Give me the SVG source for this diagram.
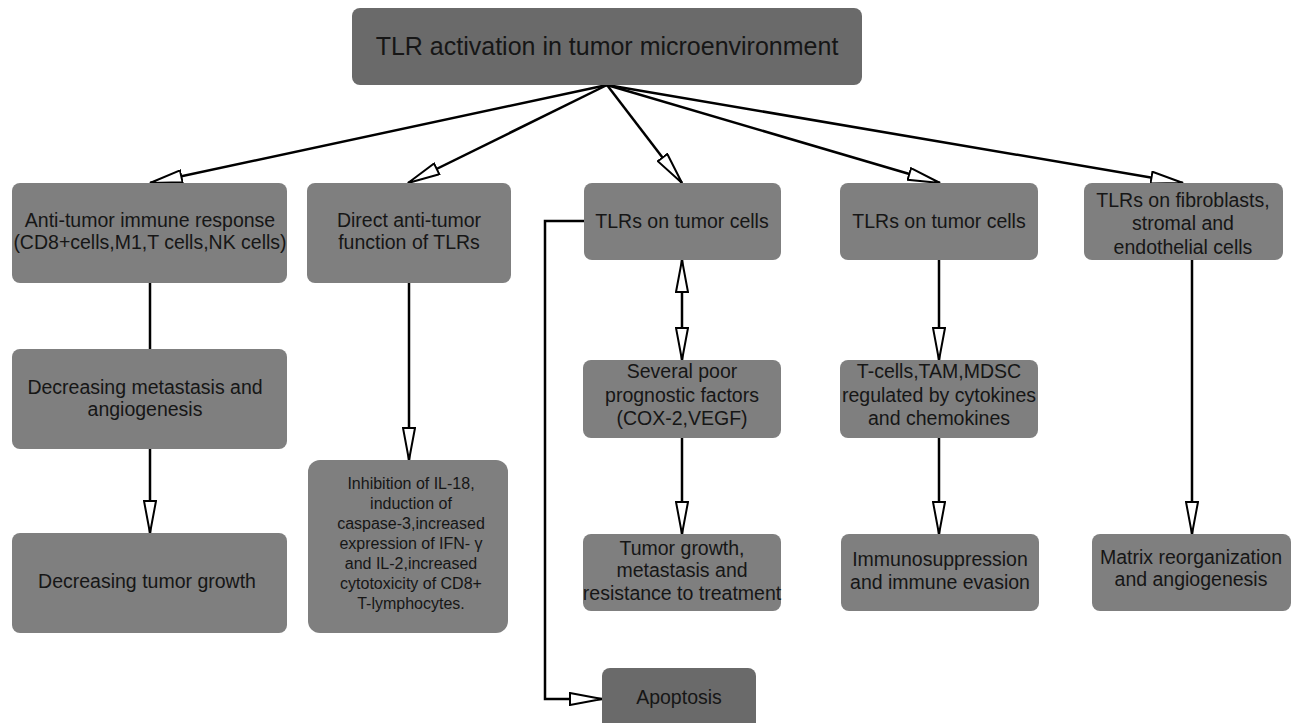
<svg xmlns="http://www.w3.org/2000/svg" width="1292" height="723" viewBox="0 0 1292 723">
<style>
.box{fill:#7f7f7f;}
.dark{fill:#6a6a6a;}
text{font-family:"Liberation Sans",Arial,sans-serif;font-size:19.5px;fill:#161616;text-anchor:middle;}
.title{font-size:25px;}
.small{font-size:16px;}
.conn{fill:none;stroke:#000;stroke-width:2.5;}
</style>
<defs>
<marker id="arr" viewBox="0 0 34 14" refX="33" refY="7" markerWidth="34" markerHeight="14" markerUnits="userSpaceOnUse" orient="auto-start-reverse">
<path d="M1,1 L33,7 L1,13 Z" fill="#fff" stroke="#000" stroke-width="2"/>
</marker>
</defs>
<rect width="1292" height="723" fill="#fff"/>
<g id="connectors">
<line class="conn" x1="607" y1="85" x2="150" y2="183" marker-end="url(#arr)"/>
<line class="conn" x1="607" y1="85" x2="408" y2="183" marker-end="url(#arr)"/>
<line class="conn" x1="607" y1="85" x2="682" y2="183" marker-end="url(#arr)"/>
<line class="conn" x1="607" y1="85" x2="940" y2="183" marker-end="url(#arr)"/>
<line class="conn" x1="607" y1="85" x2="1183" y2="183" marker-end="url(#arr)"/>
<line class="conn" x1="150" y1="283" x2="150" y2="349"/>
<line class="conn" x1="150" y1="449" x2="150" y2="533" marker-end="url(#arr)"/>
<line class="conn" x1="409" y1="283" x2="409" y2="460" marker-end="url(#arr)"/>
<line class="conn" x1="682" y1="260" x2="682" y2="360" marker-start="url(#arr)" marker-end="url(#arr)"/>
<line class="conn" x1="682" y1="438" x2="682" y2="534" marker-end="url(#arr)"/>
<line class="conn" x1="939" y1="260" x2="939" y2="360" marker-end="url(#arr)"/>
<line class="conn" x1="939" y1="438" x2="939" y2="534" marker-end="url(#arr)"/>
<line class="conn" x1="1192" y1="260" x2="1192" y2="534" marker-end="url(#arr)"/>
<polyline class="conn" points="584,221 545,221 545,699 602,699" marker-end="url(#arr)"/>
</g>
<g id="n-top">
<rect class="dark" x="352" y="8" width="510" height="77" rx="8"/>
<text class="title" x="607" y="55">TLR activation in tumor microenvironment</text>
</g>
<g id="n-anti">
<rect class="box" x="12" y="183" width="275" height="100" rx="8"/>
<text x="150" y="227">Anti-tumor immune response</text>
<text x="150" y="249">(CD8+cells,M1,T cells,NK cells)</text>
</g>
<g id="n-direct">
<rect class="box" x="307" y="183" width="204" height="100" rx="8"/>
<text x="409" y="227">Direct anti-tumor</text>
<text x="409" y="249">function of TLRs</text>
</g>
<g id="n-tlr1">
<rect class="box" x="584" y="183" width="197" height="77" rx="8"/>
<text x="682" y="228">TLRs on tumor cells</text>
</g>
<g id="n-tlr2">
<rect class="box" x="840" y="183" width="198" height="77" rx="8"/>
<text x="939" y="228">TLRs on tumor cells</text>
</g>
<g id="n-fibro">
<rect class="box" x="1084" y="183" width="199" height="77" rx="8"/>
<text x="1183" y="207">TLRs on fibroblasts,</text>
<text x="1183" y="230">stromal and</text>
<text x="1183" y="254">endothelial cells</text>
</g>
<g id="n-metast">
<rect class="box" x="12" y="349" width="275" height="100" rx="8"/>
<text x="145" y="394">Decreasing metastasis and</text>
<text x="145" y="416">angiogenesis</text>
</g>
<g id="n-poor">
<rect class="box" x="583" y="360" width="198" height="78" rx="8"/>
<text x="682" y="378">Several poor</text>
<text x="682" y="402">prognostic factors</text>
<text x="682" y="425">(COX-2,VEGF)</text>
</g>
<g id="n-tcells">
<rect class="box" x="840" y="360" width="198" height="78" rx="8"/>
<text x="939" y="378">T-cells,TAM,MDSC</text>
<text x="939" y="402">regulated by cytokines</text>
<text x="939" y="425">and chemokines</text>
</g>
<g id="n-growth">
<rect class="box" x="12" y="533" width="275" height="100" rx="8"/>
<text x="147" y="588">Decreasing tumor growth</text>
</g>
<g id="n-inhib">
<rect class="box" x="308" y="460" width="200" height="173" rx="12"/>
<text class="small" x="411" y="489">Inhibition of IL-18,</text>
<text class="small" x="411" y="509">induction of</text>
<text class="small" x="411" y="529">caspase-3,increased</text>
<text class="small" x="411" y="549">expression of IFN- γ</text>
<text class="small" x="411" y="569">and IL-2,increased</text>
<text class="small" x="411" y="589">cytotoxicity of CD8+</text>
<text class="small" x="411" y="609">T-lymphocytes.</text>
</g>
<g id="n-tumorgrowth">
<rect class="box" x="583" y="534" width="198" height="77" rx="8"/>
<text x="682" y="555">Tumor growth,</text>
<text x="682" y="577">metastasis and</text>
<text x="682" y="600">resistance to treatment</text>
</g>
<g id="n-immuno">
<rect class="box" x="841" y="534" width="198" height="77" rx="8"/>
<text x="940" y="566">Immunosuppression</text>
<text x="940" y="589">and immune evasion</text>
</g>
<g id="n-matrix">
<rect class="box" x="1092" y="534" width="199" height="77" rx="8"/>
<text x="1191" y="564">Matrix reorganization</text>
<text x="1191" y="586">and angiogenesis</text>
</g>
<g id="n-apoptosis">
<rect class="dark" x="602" y="668" width="154" height="75" rx="8"/>
<text x="679" y="704">Apoptosis</text>
</g>
</svg>
